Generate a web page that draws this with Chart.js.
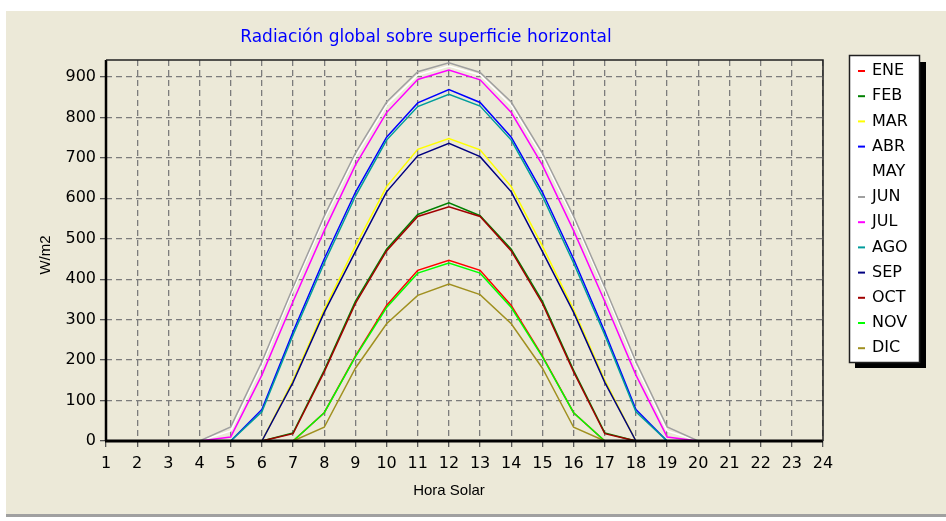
<!DOCTYPE html>
<html>
<head>
<meta charset="utf-8">
<script src="https://cdn.jsdelivr.net/npm/chart.js@4.4.0/dist/chart.umd.min.js"></script>
<style>
  html, body { margin: 0; padding: 0; background: #ffffff; }
  canvas { display: block; }
</style>
</head>
<body>
<canvas id="myChart" width="946" height="521"></canvas>
<script>
// Horas solares (eje X) y marcas del eje Y
const hours = ['1','2','3','4','5','6','7','8','9','10','11','12','13','14','15','16','17','18','19','20','21','22','23','24'];
const yTickValues = [0, 100, 200, 300, 400, 500, 600, 700, 800, 900];

const months = ['ENE','FEB','MAR','ABR','MAY','JUN','JUL','AGO','SEP','OCT','NOV','DIC'];
const monthColors = ['#ff0000','#008000','#ffff00','#0000ff','#ffffff','#a0a0a0','#ff00ff','#009c9c','#000080','#a00000','#00ff00','#a09020'];

// W/m2, horas 1..24
const ene = [0,0,0,0,0,0,0,70,210,335,422,447,422,335,210,70,0,0,0,0,0,0,0,0];
const feb = [0,0,0,0,0,0,20,175,345,474,560,589,557,474,345,175,20,0,0,0,0,0,0,0];
const mar = [0,0,0,0,0,0,150,325,482,629,721,748,720,629,482,325,150,0,0,0,0,0,0,0];
const abr = [0,0,0,0,0,78,270,450,615,751,836,869,837,751,615,450,270,78,0,0,0,0,0,0];
const may = [0,0,0,0,25,186,372,548,703,830,905,927,905,830,703,548,372,186,25,0,0,0,0,0];
const jun = [0,0,0,0,35,196,380,556,712,838,913,935,911,838,712,556,380,196,35,0,0,0,0,0];
const jul = [0,0,0,0,10,163,345,520,682,812,894,917,893,812,682,520,345,163,10,0,0,0,0,0];
const ago = [0,0,0,0,0,72,262,440,605,744,827,857,828,744,605,440,262,72,0,0,0,0,0,0];
const sep = [0,0,0,0,0,0,145,318,468,616,705,736,703,616,468,318,145,0,0,0,0,0,0,0];
const oct = [0,0,0,0,0,0,18,171,340,470,555,579,555,470,340,171,18,0,0,0,0,0,0,0];
const nov = [0,0,0,0,0,0,0,70,208,330,415,440,415,330,208,70,0,0,0,0,0,0,0,0];
const dic = [0,0,0,0,0,0,0,34,180,290,360,388,362,290,180,34,0,0,0,0,0,0,0,0];

const series = [ene, feb, mar, abr, may, jun, jul, ago, sep, oct, nov, dic];

const datasets = months.map((m, i) => ({
    label: m,
    data: series[i],
    borderColor: monthColors[i],
    backgroundColor: monthColors[i],
    borderWidth: 1.5,
    pointRadius: 0,
    tension: 0,
    fill: false,
    order: months.length - i   // los ultimos meses quedan encima
}));

// Fondo, titulo, marco, titulos de ejes y leyenda
const decor = {
    id: 'decor',
    beforeDraw(chart) {
        const ctx = chart.ctx;
        ctx.save();
        ctx.fillStyle = '#ffffff';
        ctx.fillRect(0, 0, chart.width, chart.height);
        ctx.fillStyle = '#ece9d8';
        ctx.fillRect(6, 11, chart.width - 6, 504);
        ctx.fillStyle = '#a0a0a0';
        ctx.fillRect(6, 514, chart.width - 6, 3);
        ctx.restore();
    },
    afterDraw(chart) {
        const ctx = chart.ctx;
        const area = chart.chartArea;
        ctx.save();
        ctx.setLineDash([]);

        // ejes y marco
        ctx.strokeStyle = '#000000';
        ctx.lineWidth = 2.5;
        ctx.beginPath();
        ctx.moveTo(area.left, area.top);
        ctx.lineTo(area.left, area.bottom);
        ctx.stroke();
        ctx.lineWidth = 3;
        ctx.beginPath();
        ctx.moveTo(area.left - 1, area.bottom);
        ctx.lineTo(area.right, area.bottom);
        ctx.stroke();
        ctx.strokeStyle = '#202020';
        ctx.lineWidth = 1.5;
        ctx.beginPath();
        ctx.moveTo(area.left, area.top);
        ctx.lineTo(area.right, area.top);
        ctx.lineTo(area.right, area.bottom);
        ctx.stroke();

        // titulo
        ctx.fillStyle = '#0000ff';
        ctx.font = '17px "DejaVu Sans"';
        ctx.textAlign = 'center';
        ctx.textBaseline = 'middle';
        ctx.fillText('Radiación global sobre superficie horizontal', 426, 38);

        // titulos de ejes
        ctx.fillStyle = '#000000';
        ctx.font = '15px "Liberation Sans"';
        ctx.fillText('Hora Solar', 449, 491);
        ctx.save();
        ctx.translate(46, 255);
        ctx.rotate(-Math.PI / 2);
        ctx.fillText('W/m2', 0, 0);
        ctx.restore();

        // leyenda
        ctx.fillStyle = '#000000';
        ctx.fillRect(855, 62, 71, 306);
        ctx.fillStyle = '#ffffff';
        ctx.fillRect(849, 55, 71, 308);
        ctx.strokeStyle = '#202020';
        ctx.lineWidth = 1.5;
        ctx.strokeRect(849.5, 55.5, 70, 307);

        ctx.font = '16px "DejaVu Sans"';
        ctx.textAlign = 'left';
        chart.data.datasets.forEach((ds, i) => {
            const y = 71 + i * 25.2;
            ctx.strokeStyle = ds.borderColor;
            ctx.lineWidth = 2;
            ctx.beginPath();
            ctx.moveTo(858, y);
            ctx.lineTo(865, y);
            ctx.stroke();
            ctx.fillStyle = '#000000';
            ctx.fillText(ds.label, 872, y);
        });
        ctx.restore();
    }
};

const gridOpts = {
    color: '#7c7c7c',
    lineWidth: 1.3,
    tickBorderDash: [],
    tickColor: '#555555',
    tickLength: 6,
    offset: false
};

const ctx = document.getElementById('myChart').getContext('2d');
const chart = new Chart(ctx, {
    type: 'line',
    data: {
        labels: hours,
        datasets: datasets
    },
    options: {
        responsive: false,
        animation: false,
        devicePixelRatio: 1,
        layout: {
            padding: { top: 60, right: 123, left: 0, bottom: 0 }
        },
        plugins: {
            legend: { display: false },
            title: { display: false },
            tooltip: { enabled: false }
        },
        scales: {
            x: {
                offset: false,
                afterFit(scale) { scale.height = 80; },
                grid: gridOpts,
                border: { display: false, dash: [6, 4] },
                ticks: {
                    color: '#000000',
                    font: { family: 'DejaVu Sans', size: 16 },
                    padding: 7,
                    autoSkip: false,
                    maxRotation: 0
                }
            },
            y: {
                min: 0,
                max: 942,
                afterFit(scale) { scale.width = 106; },
                afterBuildTicks(scale) {
                    scale.ticks = yTickValues.map(v => ({ value: v }));
                },
                grid: gridOpts,
                border: { display: false, dash: [6, 4] },
                ticks: {
                    color: '#000000',
                    font: { family: 'DejaVu Sans', size: 16 },
                    padding: 4
                }
            }
        }
    },
    plugins: [decor]
});
</script>
</body>
</html>
